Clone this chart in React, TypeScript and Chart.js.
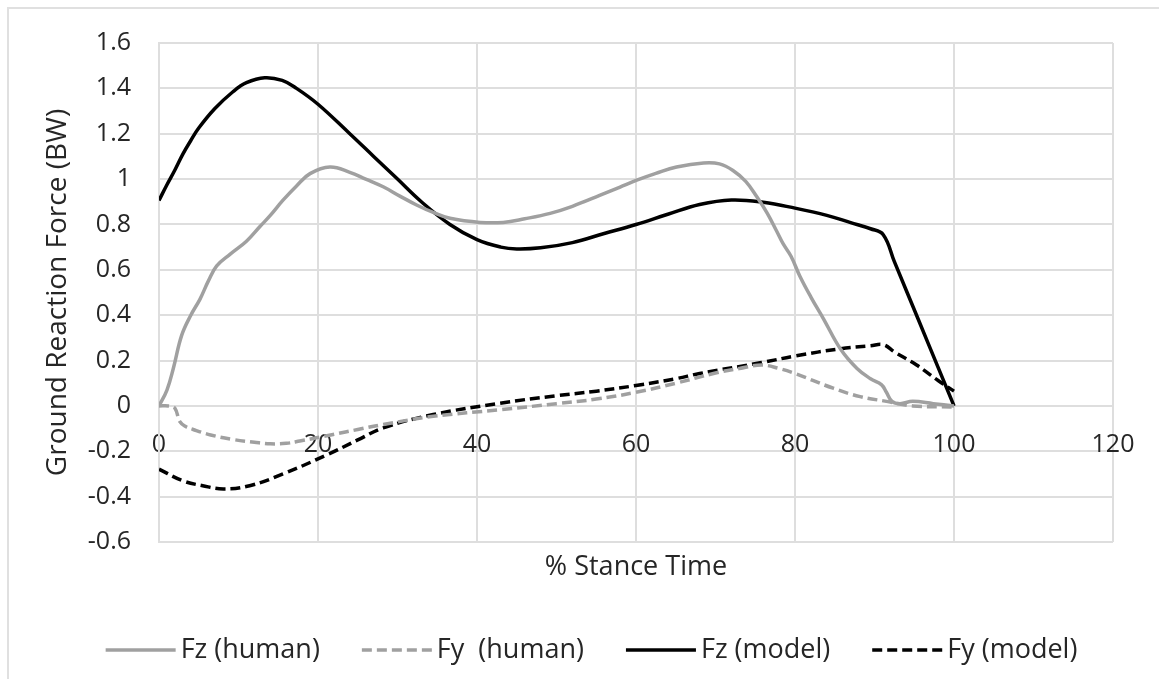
import React, { useEffect, useRef } from "react";
import { Chart, registerables } from "chart.js";

Chart.register(...registerables);

// ---- Data ----
const fzHumanX = [0, 1, 1.8, 2.85, 4, 5.16, 6.2, 7.26, 9, 11, 12.7, 14, 15.6, 17.3, 19, 21.5, 24, 26, 28.2, 30.3, 32.4, 34.5, 36.6, 40.4, 43.3, 46, 49.2, 52, 55.5, 58, 60.1, 62.5, 65.1, 68.5, 70.5, 72.2, 73.8, 75.2, 76.5, 77.7, 78.5, 79.5, 80.6, 82, 83.6, 85.7, 87.8, 89.5, 90.9, 91.5, 92.2, 93.2, 94.8, 97.4, 100];
const fzHumanY = [0, 0.07, 0.165, 0.311, 0.4, 0.471, 0.55, 0.617, 0.67, 0.726, 0.791, 0.84, 0.907, 0.97, 1.024, 1.053, 1.03, 1.0, 0.966, 0.925, 0.886, 0.853, 0.827, 0.809, 0.809, 0.825, 0.849, 0.88, 0.929, 0.965, 0.995, 1.025, 1.053, 1.071, 1.067, 1.038, 0.99, 0.922, 0.85, 0.77, 0.715, 0.66, 0.573, 0.48, 0.383, 0.252, 0.165, 0.12, 0.093, 0.06, 0.02, 0.01, 0.02, 0.01, 0];

const fyHumanX = [0, 1.2, 2.0, 2.6, 3.3, 4.3, 6.5, 9.3, 12, 14, 16, 17.7, 21.9, 25, 28.2, 34.5, 42.9, 50, 55, 60, 65, 70, 73, 75.8, 78, 80, 84.8, 88.2, 91.5, 94.8, 100];
const fyHumanY = [0, 0, -0.01, -0.068, -0.09, -0.104, -0.128, -0.148, -0.16, -0.167, -0.165, -0.155, -0.126, -0.104, -0.082, -0.046, -0.017, 0.01, 0.03, 0.06, 0.1, 0.145, 0.165, 0.18, 0.165, 0.143, 0.078, 0.041, 0.02, 0, -0.005];

const fzModelX = [0, 1, 2, 3, 4, 5, 7, 9.3, 11, 13.3, 15.5, 17.3, 20, 24, 27, 30, 33, 36.6, 40, 43, 45, 48, 52, 56, 60, 64, 68, 72, 76, 80, 84, 87, 89.5, 91.1, 92.5, 95.5, 98, 100];
const fzModelY = [0.906, 0.975, 1.04, 1.11, 1.17, 1.225, 1.31, 1.385, 1.425, 1.447, 1.435, 1.4, 1.33, 1.2, 1.1, 1.0, 0.9, 0.8, 0.733, 0.7, 0.692, 0.697, 0.72, 0.76, 0.8, 0.845, 0.888, 0.908, 0.898, 0.872, 0.84, 0.808, 0.781, 0.755, 0.636, 0.382, 0.17, 0];

const fyModelX = [0, 3, 5.5, 8.1, 11.4, 15.6, 21.1, 25, 28.2, 34.5, 42.9, 50, 55, 60, 65, 68, 75.8, 80, 85.7, 89.5, 91.1, 92.5, 95.3, 98, 100];
const fyModelY = [-0.279, -0.33, -0.352, -0.366, -0.352, -0.3, -0.216, -0.15, -0.097, -0.038, 0.012, 0.045, 0.065, 0.09, 0.12, 0.143, 0.191, 0.22, 0.252, 0.265, 0.27, 0.238, 0.18, 0.112, 0.065];

const seriesNames = ["Fz (human)", "Fy  (human)", "Fz (model)", "Fy (model)"];

const X_MIN = 0;
const X_MAX = 120;
const X_STEP = 20;
const Y_MIN = -0.6;
const Y_MAX = 1.6;
const Y_STEP = 0.2;

const GRAY = "#a0a0a0";
const BLACK = "#000000";
const GRID = "#dedede";
const TEXT = "#262626";
const FONT = "'Open Sans', sans-serif";

function toPoints(xs: number[], ys: number[]) {
  return xs.map((x, i) => ({ x, y: ys[i] }));
}

// Legend drawn as canvas text/lines from the chart's datasets
const legendPlugin = {
  id: "excelLegend",
  afterDraw(chart: any) {
    const ctx = chart.ctx as CanvasRenderingContext2D;
    const sets = chart.data.datasets;
    const lineLen = 70;
    const textGap = 5;
    const itemGap = 42;
    const cy = 650;
    ctx.save();
    ctx.font = `27px ${FONT}`;
    const widths = sets.map((d: any) => ctx.measureText(d.label).width);
    const total = widths.reduce((a: number, w: number) => a + w + lineLen + textGap, 0) + itemGap * (sets.length - 1);
    let x = chart.width / 2 + 12 - total / 2;
    sets.forEach((d: any, i: number) => {
      ctx.beginPath();
      ctx.strokeStyle = d.borderColor;
      ctx.lineWidth = d.borderWidth;
      ctx.setLineDash(d.borderDash || []);
      ctx.lineCap = "butt";
      ctx.moveTo(x, cy);
      ctx.lineTo(x + lineLen, cy);
      ctx.stroke();
      ctx.setLineDash([]);
      ctx.fillStyle = TEXT;
      ctx.textAlign = "left";
      ctx.textBaseline = "middle";
      ctx.fillText(d.label, x + lineLen + textGap, cy);
      x += lineLen + textGap + widths[i] + itemGap;
    });
    ctx.restore();
  },
};

export default function App() {
  const ref = useRef<HTMLCanvasElement>(null);

  useEffect(() => {
    document.body.style.margin = "0";
    Chart.defaults.font.family = FONT;
    const common = {
      borderWidth: 3.5,
      pointRadius: 0,
      pointHoverRadius: 0,
      fill: false,
      tension: 0.4,
    };
    const chart = new Chart(ref.current!, {
      type: "line",
      data: {
        datasets: [
          { ...common, label: seriesNames[0], data: toPoints(fzHumanX, fzHumanY), borderColor: GRAY, backgroundColor: GRAY },
          { ...common, label: seriesNames[1], data: toPoints(fyHumanX, fyHumanY), borderColor: GRAY, backgroundColor: GRAY, borderDash: [10, 5] },
          { ...common, label: seriesNames[2], data: toPoints(fzModelX, fzModelY), borderColor: BLACK, backgroundColor: BLACK },
          { ...common, label: seriesNames[3], data: toPoints(fyModelX, fyModelY), borderColor: BLACK, backgroundColor: BLACK, borderDash: [10, 5] },
        ],
      },
      options: {
        responsive: false,
        animation: false,
        layout: { padding: { left: 0, right: 46, top: 38, bottom: 0 } },
        plugins: {
          legend: { display: false },
          tooltip: { enabled: false },
        },
        scales: {
          x: {
            type: "linear",
            position: { y: 0 } as any,
            min: X_MIN,
            max: X_MAX,
            ticks: { stepSize: X_STEP, padding: 24, color: TEXT, font: { size: 25 }, maxRotation: 0, autoSkip: false },
            grid: { color: GRID, lineWidth: 2, drawTicks: false },
            border: { color: GRID, width: 2 },
            afterFit: (s: any) => { s.height = 0; },
          },
          x2: {
            type: "linear",
            position: "bottom",
            min: X_MIN,
            max: X_MAX,
            ticks: { display: false },
            grid: { display: false, drawTicks: false },
            border: { display: false },
            title: { display: true, text: "% Stance Time", color: TEXT, font: { size: 27 }, padding: { top: 0, bottom: 95.8 } },
            afterFit: (s: any) => { s.height = 137; },
          },
          y: {
            type: "linear",
            position: "left",
            min: Y_MIN,
            max: Y_MAX,
            ticks: {
              stepSize: Y_STEP,
              padding: 28,
              color: TEXT,
              font: { size: 25 },
              callback: (v: any) => String(Number(Number(v).toFixed(1))),
            },
            grid: { color: GRID, lineWidth: 2, drawTicks: false },
            border: { color: GRID, width: 2 },
            title: { display: true, text: "Ground Reaction Force (BW)", color: TEXT, font: { size: 28 }, padding: { top: 41, bottom: 0 } },
            afterFit: (s: any) => { s.width = 159; },
          },
        },
      } as any,
      plugins: [legendPlugin],
    });
    return () => chart.destroy();
  }, []);

  return (
    <div style={{ position: "fixed", left: 0, top: 0, width: 1159, height: 679, overflow: "hidden", background: "#ffffff" }}>
      <div style={{ position: "absolute", left: 7, top: 7, width: 1200, height: 720, borderTop: "2px solid #e0e0e0", borderLeft: "2px solid #e0e0e0" }} />
      <canvas ref={ref} width={1159} height={679} style={{ position: "absolute", left: 0, top: 0, width: 1159, height: 679 }} />
    </div>
  );
}
